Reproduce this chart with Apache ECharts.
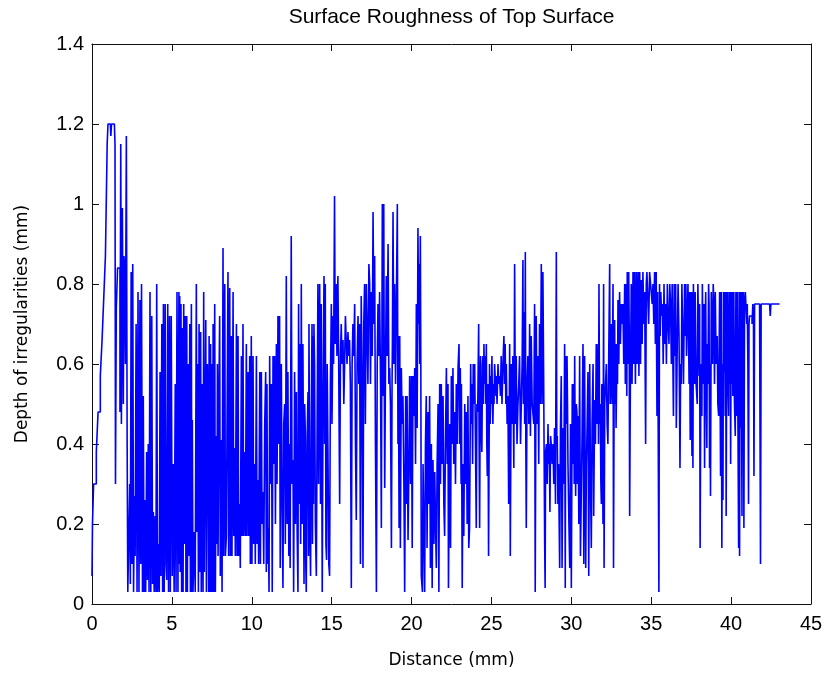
<!DOCTYPE html>
<html>
<head>
<meta charset="utf-8">
<script src="https://cdn.jsdelivr.net/npm/echarts@6/dist/echarts.min.js"></script>
<style>
html,body{margin:0;padding:0;background:#fff;}
#chart{width:827px;height:674px;}
</style>
</head>
<body>
<div id="chart"></div>
<script>
// Data: [distance (mm), depth (mm)]
const titleText = 'Surface Roughness of Top Surface';
const xName = 'Distance (mm)';
const yName = 'Depth of irregularities (mm)';
const xTicks = [0, 5, 10, 15, 20, 25, 30, 35, 40, 45];
const yTicks = [0, 0.2, 0.4, 0.6, 0.8, 1, 1.2, 1.4];

const profileA = [
[0.00,0.07],[0.03,0.20],[0.10,0.30],[0.27,0.38],[0.38,0.48],[0.52,0.57],[0.63,0.66],[0.74,0.77],[0.84,0.87],[0.95,1.15],
[1.00,1.20],[1.15,1.20],[1.18,1.17],[1.22,1.20],[1.40,1.20],[1.44,1.15],[1.47,0.30],[1.52,0.74],[1.56,0.74],[1.60,0.84],
[1.70,0.84],[1.75,0.48],[1.80,1.15],[1.84,0.45],[1.90,0.99],[1.96,0.50],[2.00,0.87],[2.04,0.84],[2.09,0.60],[2.15,1.17],
[2.20,0.40],[2.24,0.03]
];
const profileB = [
[2.30,0.03],[2.36,0.30],[2.40,0.05],[2.45,0.83],[2.50,0.10],[2.55,0.85],[2.60,0.03],[2.66,0.27],[2.70,0.12],[2.76,0.70],
[2.82,0.03],[2.88,0.78],[2.94,0.03],[3.00,0.76],[3.05,0.10],[3.10,0.80],[3.16,0.03],[3.21,0.52],[3.26,0.03],[3.32,0.26],
[3.36,0.03],[3.42,0.38],[3.47,0.06],[3.52,0.40],[3.57,0.03],[3.63,0.78],[3.68,0.03],[3.74,0.72],[3.79,0.05],[3.84,0.23],
[3.89,0.03],[3.95,0.22],[4.00,0.03],[4.05,0.80],[4.10,0.03],[4.16,0.15],[4.21,0.03],[4.26,0.58],[4.31,0.07],[4.37,0.70],
[4.42,0.03],[4.47,0.75],[4.52,0.03],[4.58,0.75],[4.63,0.10],[4.68,0.06],[4.74,0.75],[4.79,0.03],[4.85,0.72],[4.90,0.03],
[4.96,0.72],[5.02,0.07],[5.08,0.35],[5.14,0.03],[5.21,0.55],[5.26,0.03],[5.32,0.78],[5.38,0.03],[5.44,0.78],[5.46,0.10]
];
const profileC = [
[5.49,0.77],[5.52,0.08],[5.57,0.75],[5.61,0.03],[5.66,0.69],[5.70,0.03],[5.74,0.75],[5.78,0.15],[5.84,0.72],[5.88,0.03],
[5.93,0.72],[5.97,0.03],[6.01,0.60],[6.06,0.12],[6.12,0.70],[6.16,0.03],[6.22,0.75],[6.25,0.03],[6.28,0.46],[6.32,0.03],
[6.40,0.18],[6.46,0.03],[6.53,0.80],[6.57,0.18],[6.62,0.60],[6.66,0.03],[6.70,0.70],[6.74,0.08],[6.80,0.68],[6.84,0.03],
[6.90,0.55],[6.95,0.03],[6.99,0.78],[7.03,0.08],[7.12,0.71],[7.16,0.03],[7.22,0.60],[7.26,0.43],[7.30,0.03],[7.33,0.67],
[7.37,0.03],[7.42,0.65],[7.47,0.03],[7.52,0.60],[7.55,0.03],[7.58,0.70],[7.62,0.03],[7.68,0.75],[7.72,0.03],[7.78,0.42],
[7.82,0.15],[7.85,0.60],[7.89,0.12],[7.95,0.55],[7.99,0.72],[8.03,0.07],[8.10,0.41],[8.14,0.03],[8.20,0.89],[8.24,0.12],
[8.31,0.80],[8.35,0.12],[8.41,0.17],[8.46,0.50],[8.51,0.83],[8.55,0.12],[8.62,0.79],[8.66,0.12],[8.72,0.67],[8.76,0.12],
[8.83,0.78],[8.87,0.17],[8.93,0.39],[8.97,0.12],[9.04,0.70],[9.08,0.12],[9.14,0.67],[9.18,0.12],[9.24,0.25],[9.28,0.09],
[9.35,0.62],[9.39,0.17],[9.45,0.70],[9.49,0.17],[9.56,0.38],[9.60,0.17],[9.66,0.65],[9.70,0.17],[9.77,0.58],[9.81,0.17],
[9.87,0.62],[9.91,0.10],[9.97,0.67],[10.01,0.10],[10.08,0.62],[10.12,0.15],[10.18,0.35],[10.22,0.10],[10.29,0.62],[10.33,0.15],
[10.39,0.31],[10.43,0.10],[10.50,0.58],[10.54,0.10],[10.60,0.58],[10.64,0.20],[10.70,0.28],[10.75,0.10],[10.81,0.45],[10.87,0.58],
[10.91,0.08],[10.95,0.55],[10.99,0.10],[11.04,0.19],[11.08,0.03],[11.12,0.62],[11.16,0.30],[11.23,0.55],[11.28,0.03],[11.33,0.62],
[11.38,0.35],[11.43,0.62],[11.48,0.20],[11.54,0.65],[11.58,0.30],[11.64,0.72],[11.68,0.40]
];
const profileD = [
[11.74,0.72],[11.78,0.09],[11.85,0.60],[11.89,0.29],[11.95,0.04],[12.00,0.45],[12.06,0.50],[12.10,0.15],[12.16,0.82],[12.21,0.20],
[12.26,0.58],[12.32,0.12],[12.37,0.40],[12.40,0.09],[12.47,0.92],[12.52,0.30],[12.58,0.36],[12.62,0.03],[12.68,0.58],[12.73,0.20],
[12.79,0.53],[12.84,0.18],[12.89,0.03],[12.93,0.75],[12.97,0.25],[13.02,0.65],[13.06,0.15],[13.10,0.80],[13.15,0.20],[13.20,0.65],
[13.24,0.30],[13.27,0.05],[13.31,0.50],[13.35,0.43],[13.38,0.10],[13.41,0.03],[13.46,0.40],[13.52,0.53],[13.55,0.12],[13.58,0.70],
[13.63,0.20],[13.68,0.07],[13.72,0.45],[13.77,0.70],[13.80,0.15],[13.83,0.67],[13.86,0.25],[13.89,0.70],[13.93,0.60],[13.98,0.20],
[14.04,0.07],[14.09,0.45],[14.14,0.80],[14.18,0.30],[14.25,0.80],[14.30,0.25],[14.35,0.75],[14.38,0.40],[14.41,0.03],[14.46,0.50],
[14.52,0.82],[14.56,0.40],[14.60,0.80],[14.64,0.15],[14.68,0.11],[14.72,0.60],[14.77,0.37],[14.82,0.10],[14.87,0.07],[14.92,0.55],
[14.98,0.75],[15.02,0.45],[15.08,0.72],[15.12,0.60],[15.18,1.02],[15.22,0.65],[15.29,0.80],[15.33,0.62],[15.39,0.82],[15.44,0.60],
[15.50,0.25],[15.55,0.62],[15.60,0.70],[15.65,0.60],[15.71,0.66],[15.76,0.50],[15.81,0.60],[15.86,0.72],[15.91,0.72],[15.96,0.60],
[16.02,0.68],[16.07,0.62],[16.12,0.66],[16.17,0.55],[16.23,0.04],[16.28,0.60],[16.33,0.70],[16.38,0.62],[16.44,0.75],[16.49,0.40],
[16.54,0.21],[16.59,0.60],[16.65,0.72],[16.70,0.55],[16.75,0.70],[16.80,0.10],[16.85,0.77],[16.90,0.60],[16.96,0.09],[17.01,0.70],
[17.06,0.80],[17.11,0.45],[17.17,0.80]
];
const profileE = [
[17.27,0.55],[17.33,0.85],[17.38,0.80],[17.43,0.55],[17.48,0.78],[17.54,0.62],[17.59,0.98],[17.64,0.70],[17.69,0.87],[17.74,0.40],
[17.80,0.03],[17.85,0.60],[17.90,0.75],[17.95,0.62],[18.00,0.78],[18.06,0.55],[18.11,0.19],[18.17,1.00],[18.22,0.52],[18.26,1.00],
[18.29,0.60],[18.32,0.29],[18.37,0.60],[18.42,0.82],[18.47,0.62],[18.53,0.90],[18.58,0.55],[18.63,0.59],[18.68,0.50],[18.74,0.14],
[18.78,0.55],[18.80,0.65],[18.84,0.98],[18.89,0.60],[18.94,0.80],[19.00,0.55],[19.05,0.55],[19.11,1.00],[19.15,0.40],[19.17,0.67],
[19.22,0.19],[19.26,0.67],[19.30,0.14],[19.36,0.59],[19.41,0.45],[19.46,0.52],[19.52,0.30],[19.57,0.03],[19.63,0.52],[19.68,0.25],
[19.72,0.52],[19.78,0.16],[19.84,0.36],[19.88,0.57],[19.94,0.30],[19.99,0.57],[20.04,0.14],[20.09,0.57],[20.14,0.47],[20.20,0.59],
[20.25,0.35],[20.30,0.75],[20.35,0.44],[20.40,0.94],[20.44,0.70],[20.47,0.85],[20.51,0.60],[20.55,0.92],[20.58,0.60],[20.61,0.07],
[20.68,0.03],[20.72,0.35],[20.76,0.22],[20.82,0.03],[20.87,0.40],[20.92,0.52],[20.97,0.14],[21.03,0.48],[21.08,0.25],[21.13,0.52],
[21.18,0.09],[21.24,0.40],[21.29,0.04],[21.34,0.36],[21.40,0.15],[21.45,0.33],[21.50,0.20],[21.55,0.09],[21.60,0.35],[21.66,0.50],
[21.71,0.03],[21.76,0.55],[21.81,0.30],[21.86,0.55],[21.92,0.35],[21.97,0.52],[22.02,0.25],[22.07,0.17],[22.12,0.40],[22.18,0.59],
[22.23,0.35],[22.28,0.55],[22.31,0.04],[22.39,0.45],[22.44,0.14],[22.49,0.57],[22.54,0.40],[22.59,0.59],[22.64,0.35],[22.70,0.48],
[22.75,0.30],[22.80,0.55],[22.86,0.40],[22.91,0.59],[22.97,0.65],[23.01,0.40],[23.05,0.59],[23.10,0.30],[23.12,0.55],[23.17,0.04],
[23.22,0.35],[23.27,0.17],[23.33,0.50],[23.38,0.30],[23.43,0.48],[23.48,0.20],[23.53,0.52],[23.58,0.14]
];
const profileF = [
[23.63,0.19],[23.70,0.60],[23.74,0.45],[23.78,0.55],[23.82,0.35],[23.86,0.60],[23.90,0.50],[23.95,0.60],[24.00,0.40],[24.05,0.19],
[24.09,0.50],[24.14,0.48],[24.20,0.70],[24.23,0.40],[24.26,0.19],[24.30,0.55],[24.32,0.62],[24.36,0.45],[24.40,0.38],[24.44,0.60],
[24.47,0.62],[24.50,0.50],[24.53,0.65],[24.57,0.55],[24.61,0.62],[24.65,0.50],[24.68,0.65],[24.71,0.40],[24.74,0.32],[24.78,0.55],
[24.82,0.12],[24.88,0.60],[24.92,0.45],[24.95,0.57],[24.99,0.50],[25.03,0.62],[25.06,0.50],[25.09,0.45],[25.13,0.55],[25.16,0.50],
[25.20,0.60],[25.24,0.60],[25.28,0.52],[25.30,0.57],[25.35,0.50],[25.41,0.60],[25.46,0.55],[25.51,0.57],[25.56,0.52],[25.61,0.62],
[25.66,0.50],[25.72,0.60],[25.78,0.67],[25.82,0.55],[25.86,0.65],[25.90,0.50],[25.93,0.60],[25.98,0.45],[26.03,0.52],[26.08,0.25],
[26.14,0.65],[26.18,0.12],[26.24,0.60],[26.29,0.45],[26.34,0.62],[26.40,0.34],[26.45,0.85],[26.50,0.45],[26.55,0.62],[26.60,0.40],
[26.66,0.50],[26.71,0.55],[26.76,0.62],[26.82,0.40],[26.87,0.40],[26.92,0.60],[26.97,0.86],[27.00,0.50],[27.03,0.73],[27.08,0.45],
[27.12,0.88],[27.15,0.42],[27.18,0.19],[27.23,0.55],[27.28,0.62],[27.34,0.45],[27.39,0.70],[27.44,0.42],[27.49,0.67],[27.55,0.50],
[27.60,0.50],[27.65,0.45],[27.70,0.75],[27.74,0.03],[27.80,0.72],[27.85,0.45],[27.91,0.62],[27.96,0.35],[28.01,0.70],[28.06,0.50],
[28.12,0.85],[28.17,0.50],[28.22,0.83],[28.27,0.55],[28.33,0.16],[28.36,0.04],[28.39,0.38],[28.44,0.40],[28.49,0.30],[28.54,0.45],
[28.58,0.35],[28.62,0.40],[28.66,0.23],[28.70,0.42],[28.74,0.40],[28.80,0.35],[28.85,0.40],[28.90,0.30],[28.95,0.44],[29.01,0.25],
[29.06,0.88],[29.09,0.40],[29.12,0.42],[29.16,0.25],[29.20,0.35],[29.24,0.20],[29.27,0.09],[29.32,0.44]
];
const profileG = [
[29.37,0.57],[29.42,0.09],[29.48,0.44],[29.53,0.30],[29.58,0.65],[29.62,0.04],[29.65,0.62],[29.70,0.45],[29.73,0.62],[29.76,0.50],
[29.79,0.35],[29.85,0.20],[29.90,0.09],[29.95,0.45],[30.00,0.04],[30.06,0.55],[30.10,0.35],[30.15,0.55],[30.18,0.30],[30.21,0.62],
[30.24,0.40],[30.27,0.27],[30.31,0.50],[30.35,0.48],[30.38,0.30],[30.42,0.47],[30.47,0.20],[30.52,0.62],[30.57,0.12],[30.63,0.29],
[30.68,0.45],[30.73,0.65],[30.78,0.10],[30.83,0.62],[30.87,0.30],[30.90,0.09],[30.94,0.34],[30.99,0.45],[31.04,0.58],[31.09,0.07],
[31.15,0.60],[31.20,0.30],[31.25,0.14],[31.30,0.45],[31.36,0.60],[31.40,0.22],[31.46,0.51],[31.51,0.40],[31.56,0.65],[31.62,0.45],
[31.67,0.65],[31.70,0.40],[31.73,0.80],[31.77,0.45],[31.81,0.50],[31.85,0.30],[31.88,0.25],[31.91,0.55],[31.94,0.50],[31.98,0.20],
[32.02,0.80],[32.05,0.09],[32.09,0.50],[32.14,0.55],[32.19,0.60],[32.24,0.45],[32.29,0.40],[32.34,0.62],[32.40,0.85],[32.43,0.50],
[32.46,0.54],[32.50,0.70],[32.55,0.50],[32.61,0.80],[32.64,0.09],[32.68,0.55],[32.71,0.71],[32.74,0.50],[32.77,0.65],[32.80,0.44],
[32.86,0.65],[32.89,0.55],[32.92,0.76],[32.97,0.60],[33.02,0.78],[33.07,0.65],[33.13,0.75],[33.18,0.70],[33.23,0.75],[33.28,0.60],
[33.34,0.80],[33.38,0.55],[33.44,0.80],[33.47,0.52],[33.50,0.83],[33.55,0.60],[33.59,0.83],[33.62,0.70],[33.65,0.22],[33.69,0.52],
[33.75,0.80],[33.80,0.55],[33.86,0.83],[33.91,0.60],[33.96,0.83],[34.01,0.55],[34.07,0.83],[34.12,0.60],[34.18,0.83],[34.23,0.57],
[34.28,0.83],[34.33,0.60],[34.38,0.81],[34.43,0.65],[34.48,0.83],[34.54,0.70],[34.59,0.78],[34.65,0.40],[34.69,0.80],[34.73,0.83],
[34.80,0.83],[34.84,0.70],[34.90,0.83],[34.96,0.80],[35.01,0.80],[35.06,0.75],[35.11,0.80],[35.16,0.70],[35.21,0.83]
];
const profileH = [
[35.26,0.65],[35.31,0.83],[35.36,0.47],[35.40,0.78],[35.46,0.78],[35.48,0.03],[35.52,0.80],[35.56,0.67],[35.60,0.78],[35.65,0.72],
[35.70,0.75],[35.75,0.60],[35.80,0.80],[35.85,0.65],[35.90,0.75],[35.95,0.60],[36.01,0.80],[36.06,0.70],[36.11,0.65],[36.16,0.80],
[36.21,0.75],[36.26,0.60],[36.31,0.80],[36.36,0.80],[36.39,0.47],[36.44,0.80],[36.50,0.62],[36.53,0.80],[36.57,0.44],[36.63,0.65],
[36.68,0.80],[36.71,0.80],[36.74,0.67],[36.80,0.34],[36.84,0.60],[36.88,0.55],[36.92,0.80],[36.98,0.80],[37.02,0.55],[37.05,0.67],
[37.09,0.80],[37.13,0.67],[37.17,0.80],[37.21,0.62],[37.25,0.70],[37.30,0.80],[37.34,0.80],[37.37,0.55],[37.40,0.78],[37.44,0.41],
[37.49,0.78],[37.55,0.37],[37.58,0.78],[37.61,0.34],[37.64,0.80],[37.67,0.80],[37.71,0.55],[37.75,0.78],[37.81,0.55],[37.88,0.50],
[37.92,0.80],[37.96,0.80],[38.00,0.57],[38.03,0.75],[38.06,0.14],[38.11,0.60],[38.17,0.47],[38.20,0.80],[38.23,0.80],[38.26,0.55],
[38.30,0.75],[38.34,0.34],[38.38,0.70],[38.41,0.78],[38.44,0.55],[38.48,0.39],[38.51,0.65],[38.55,0.55],[38.59,0.80],[38.62,0.75],
[38.65,0.34],[38.68,0.60],[38.71,0.27],[38.76,0.78],[38.80,0.78],[38.84,0.60],[38.88,0.80],[38.92,0.75],[38.96,0.55],[39.01,0.78],
[39.06,0.60],[39.13,0.67],[39.17,0.50],[39.22,0.47],[39.28,0.78],[39.34,0.32],[39.38,0.78],[39.42,0.14],[39.46,0.60],[39.49,0.26],
[39.52,0.78],[39.55,0.58],[39.59,0.78],[39.63,0.47],[39.66,0.78],[39.69,0.22],[39.72,0.60],[39.76,0.78],[39.80,0.55],[39.84,0.47],
[39.87,0.78],[39.90,0.55],[39.94,0.78],[39.97,0.35],[40.01,0.78],[40.05,0.55],[40.08,0.78],[40.11,0.52],[40.14,0.60],[40.17,0.78],
[40.21,0.50],[40.26,0.42],[40.30,0.78],[40.34,0.47],[40.38,0.78],[40.43,0.44],[40.47,0.14],[40.50,0.78],[40.53,0.12],[40.56,0.78],
[40.59,0.44],[40.63,0.78],[40.68,0.22],[40.71,0.78],[40.74,0.44],[40.77,0.78],[40.80,0.19],[40.84,0.75],[40.89,0.78],[40.95,0.78],
[40.98,0.70],[41.01,0.75],[41.05,0.60],[41.09,0.25],[41.12,0.70],[41.15,0.72],[41.20,0.72],[41.26,0.72],[41.31,0.70],[41.36,0.75],
[41.40,0.70],[41.43,0.32],[41.47,0.75],[41.51,0.75],[41.57,0.75],[41.63,0.75],[41.70,0.75],[41.78,0.75],[41.82,0.75],[41.84,0.10],
[41.88,0.75],[41.93,0.75],[42.09,0.75],[42.41,0.75],[42.45,0.72],[42.49,0.75],[42.55,0.75],[43.03,0.75]
];

const profile = [].concat(profileA, profileB, profileC, profileD, profileE, profileF, profileG, profileH);

const chart = echarts.init(document.getElementById('chart'), null, {renderer: 'canvas'});

const axisColor = '#111';
const labelFont = {fontFamily: 'Liberation Sans, Arial, sans-serif', fontSize: 20, color: '#000'};
const nameFont = {fontFamily: 'DejaVu Sans, Verdana, sans-serif', fontSize: 17, color: '#000'};

const xBase = {
  type: 'value', min: xTicks[0], max: xTicks[xTicks.length - 1], interval: xTicks[1] - xTicks[0],
  axisLine: {show: true, onZero: false, lineStyle: {color: axisColor, width: 1}},
  axisTick: {show: true, inside: true, length: 7, lineStyle: {color: axisColor, width: 1}},
  splitLine: {show: false}
};
const yBase = {
  type: 'value', min: yTicks[0], max: yTicks[yTicks.length - 1], interval: yTicks[1] - yTicks[0],
  axisLine: {show: true, onZero: false, lineStyle: {color: axisColor, width: 1}},
  axisTick: {show: true, inside: true, length: 7, lineStyle: {color: axisColor, width: 1}},
  splitLine: {show: false}
};

chart.setOption({
  animation: false,
  backgroundColor: '#fff',
  title: {
    text: titleText,
    left: 451.5, top: 7, padding: 0, textAlign: 'center',
    textStyle: {fontFamily: 'Liberation Sans, Arial, sans-serif', fontSize: 21, fontWeight: 'normal', color: '#000'}
  },
  grid: {left: 92, right: 16, top: 44, bottom: 66, containLabel: false},
  xAxis: [
    Object.assign({}, xBase, {
      position: 'bottom',
      axisLabel: Object.assign({margin: 10}, labelFont),
      name: xName, nameLocation: 'middle', nameGap: 48, nameTextStyle: nameFont
    }),
    Object.assign({}, xBase, {position: 'top', axisLabel: {show: false}})
  ],
  yAxis: [
    Object.assign({}, yBase, {
      position: 'left',
      axisLabel: Object.assign({margin: 8}, labelFont),
      name: yName, nameLocation: 'middle', nameRotate: 90, nameGap: 61, nameTextStyle: nameFont
    }),
    Object.assign({}, yBase, {position: 'right', axisLabel: {show: false}})
  ],
  series: [{
    type: 'line',
    xAxisIndex: 0, yAxisIndex: 0,
    data: profile,
    step: 'end',
    showSymbol: false,
    symbol: 'none',
    lineStyle: {color: '#0000ff', width: 1.6},
    emphasis: {disabled: true}
  }]
});
</script>
</body>
</html>
